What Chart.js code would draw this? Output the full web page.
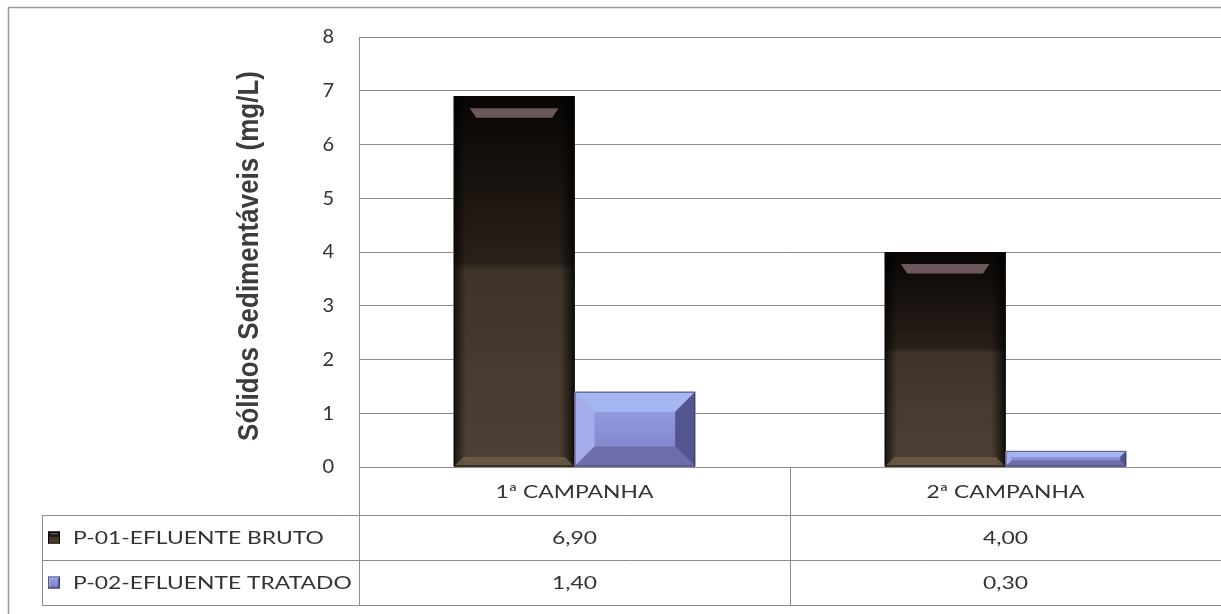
<!DOCTYPE html>
<html>
<head>
<meta charset="utf-8">
<script src="https://cdn.jsdelivr.net/npm/chart.js@4/dist/chart.umd.min.js"></script>
<style>
  body { margin: 0; background: #fff; }
  canvas { display: block; }
</style>
</head>
<body>
<canvas id="chart" width="1221" height="614"></canvas>
<script>
// data
const categories = ['1ª CAMPANHA', '2ª CAMPANHA'];
const seriesNames = ['P-01-EFLUENTE BRUTO', 'P-02-EFLUENTE TRATADO'];
const bruto = [6.90, 4.00];
const tratado = [1.40, 0.30];
const yTicks = [0, 1, 2, 3, 4, 5, 6, 7, 8];
const yTitle = 'Sólidos Sedimentáveis (mg/L)';

const lineColor = '#8c8c8c';
const textFont = '18px Lato, "Open Sans", sans-serif';
const stretch = 1.27; // the scanned chart is a bit wider than it is tall

function fmt(v) {
    return v.toFixed(2).replace('.', ',');
}

function wideText(ctx, txt, x, y, align) {
    ctx.save();
    ctx.translate(x, y);
    ctx.scale(stretch, 1);
    ctx.textAlign = align;
    ctx.fillText(txt, 0, 0);
    ctx.restore();
}

function poly(ctx, pts, fill) {
    ctx.beginPath();
    ctx.moveTo(pts[0][0], pts[0][1]);
    for (let i = 1; i < pts.length; i++) ctx.lineTo(pts[i][0], pts[i][1]);
    ctx.closePath();
    ctx.fillStyle = fill;
    ctx.fill();
}

function drawDark(ctx, l, r, t, b) {
    const w = r - l, h = b - t;
    let g = ctx.createLinearGradient(0, t, 0, b);
    g.addColorStop(0, '#090605');
    g.addColorStop(0.45, '#30261d');
    g.addColorStop(0.47, '#4a3d31');
    g.addColorStop(1, '#5c4c3e');
    ctx.fillStyle = g;
    ctx.fillRect(l, t, w, h);
    let s = ctx.createLinearGradient(l, 0, r, 0);
    s.addColorStop(0, 'rgba(0,0,0,0.75)');
    s.addColorStop(0.1, 'rgba(0,0,0,0.15)');
    s.addColorStop(0.88, 'rgba(0,0,0,0.15)');
    s.addColorStop(1, 'rgba(0,0,0,0.8)');
    ctx.fillStyle = s;
    ctx.fillRect(l, t, w, h);
    const bv = Math.min(16, h / 4, w / 6);
    poly(ctx, [[l + bv, t + bv * 0.75], [r - bv, t + bv * 0.75], [r - bv * 1.4, t + bv * 1.35], [l + bv * 1.4, t + bv * 1.35]], 'rgba(140,115,120,0.75)');
    poly(ctx, [[l + bv * 0.6, b - bv * 0.6], [r - bv * 0.6, b - bv * 0.6], [r, b], [l, b]], 'rgba(110,92,72,0.8)');
    ctx.strokeStyle = '#0a0806';
    ctx.lineWidth = 1;
    ctx.strokeRect(l + 0.5, t + 0.5, w - 1, h - 1);
}

function drawBlue(ctx, l, r, t, b) {
    const w = r - l, h = b - t;
    const bv = Math.min(20, h / 2.6, w / 6);
    let g = ctx.createLinearGradient(0, t, 0, b);
    g.addColorStop(0, '#98a4e8');
    g.addColorStop(1, '#7c7ec4');
    ctx.fillStyle = g;
    ctx.fillRect(l, t, w, h);
    poly(ctx, [[l, t], [r, t], [r - bv, t + bv], [l + bv, t + bv]], '#a6b6f2');
    poly(ctx, [[l, t], [l + bv, t + bv], [l + bv, b - bv], [l, b]], '#a4acea');
    poly(ctx, [[r, t], [r, b], [r - bv, b - bv], [r - bv, t + bv]], '#54548e');
    poly(ctx, [[l, b], [r, b], [r - bv, b - bv], [l + bv, b - bv]], '#6e6caa');
    ctx.strokeStyle = 'rgba(50,50,90,0.7)';
    ctx.lineWidth = 1;
    ctx.strokeRect(l + 0.5, t + 0.5, w - 1, h - 1);
}

const bevelBars = {
    id: 'bevelBars',
    afterDatasetsDraw(chart) {
        const ctx = chart.ctx;
        ctx.save();
        chart.data.datasets.forEach((ds, i) => {
            chart.getDatasetMeta(i).data.forEach(bar => {
                const p = bar.getProps(['x', 'y', 'base', 'width'], true);
                const l = p.x - p.width / 2, r = p.x + p.width / 2;
                const t = Math.min(p.y, p.base), b = Math.max(p.y, p.base);
                if (i === 0) drawDark(ctx, l, r, t, b);
                else drawBlue(ctx, l, r, t, b);
            });
        });
        ctx.restore();
    }
};

const dataTable = {
    id: 'dataTable',
    afterDraw(chart) {
        const ctx = chart.ctx;
        const area = chart.chartArea;
        const xs = chart.scales.x;
        const rowTop = area.bottom;
        const rows = [rowTop + 48, rowTop + 93, rowTop + 138];
        const tableLeft = 42;
        ctx.save();
        // outer frame
        ctx.strokeStyle = '#9a9a9a';
        ctx.lineWidth = 1.5;
        ctx.beginPath();
        ctx.moveTo(8.5, 614);
        ctx.lineTo(8.5, 7.5);
        ctx.lineTo(1221, 7.5);
        ctx.stroke();

        // axis title
        ctx.save();
        ctx.translate(250, (area.top + area.bottom) / 2 + 4);
        ctx.rotate(-Math.PI / 2);
        ctx.scale(1, 1.12);
        ctx.font = 'bold 26px "Liberation Sans", Arial, sans-serif';
        ctx.fillStyle = '#3c3c3c';
        ctx.textAlign = 'center';
        ctx.textBaseline = 'middle';
        ctx.fillText(yTitle, 0, 0);
        ctx.restore();

        ctx.strokeStyle = lineColor;
        ctx.lineWidth = 1;
        ctx.beginPath();
        ctx.moveTo(area.left, rowTop + 0.5);
        ctx.lineTo(area.right, rowTop + 0.5);
        rows.forEach(y => {
            ctx.moveTo(tableLeft, y + 0.5);
            ctx.lineTo(area.right, y + 0.5);
        });
        ctx.moveTo(tableLeft + 0.5, rows[0]);
        ctx.lineTo(tableLeft + 0.5, rows[2]);
        ctx.moveTo(area.left + 0.5, area.top);
        ctx.lineTo(area.left + 0.5, rows[2]);
        for (let i = 1; i < categories.length; i++) {
            const xm = Math.round((xs.getPixelForValue(i - 1) + xs.getPixelForValue(i)) / 2) + 0.5;
            ctx.moveTo(xm, rowTop);
            ctx.lineTo(xm, rows[2]);
        }
        ctx.stroke();

        ctx.font = textFont;
        ctx.fillStyle = '#333';
        ctx.textBaseline = 'middle';
        const series = [bruto, tratado];
        categories.forEach((c, i) => {
            const x = xs.getPixelForValue(i);
            wideText(ctx, c, x, (rowTop + rows[0]) / 2 + 1, 'center');
            series.forEach((s, k) => {
                wideText(ctx, fmt(s[i]), x, (rows[k] + rows[k + 1]) / 2 + 1, 'center');
            });
        });
        seriesNames.forEach((n, k) => {
            const yc = (rows[k] + rows[k + 1]) / 2;
            if (k === 0) drawDark(ctx, 48, 60, yc - 6, yc + 6);
            else drawBlue(ctx, 48, 60, yc - 6, yc + 6);
            ctx.fillStyle = '#333';
            wideText(ctx, n, 73, yc + 1, 'left');
        });
        ctx.restore();
    }
};

const ctx = document.getElementById('chart').getContext('2d');
const myChart = new Chart(ctx, {
    type: 'bar',
    data: {
        labels: categories,
        datasets: [{
            label: seriesNames[0],
            data: bruto,
            backgroundColor: '#3a2e24'
        }, {
            label: seriesNames[1],
            data: tratado,
            backgroundColor: '#8286c8'
        }]
    },
    options: {
        responsive: false,
        animation: false,
        layout: { padding: { left: 230, top: 37, right: 0, bottom: 147 } },
        categoryPercentage: 0.56,
        barPercentage: 1.0,
        plugins: {
            legend: { display: false },
            tooltip: { enabled: false }
        },
        scales: {
            x: { display: false },
            y: {
                min: 0,
                max: 8,
                afterFit(scale) { scale.width = 129; },
                afterBuildTicks(scale) { scale.ticks = yTicks.map(v => ({ value: v })); },
                grid: { color: lineColor, drawTicks: false },
                border: { color: lineColor },
                ticks: {
                    padding: 25,
                    color: '#333',
                    font: { family: 'Lato, "Open Sans", sans-serif', size: 20 }
                }
            }
        }
    },
    plugins: [bevelBars, dataTable]
});
</script>
</body>
</html>
